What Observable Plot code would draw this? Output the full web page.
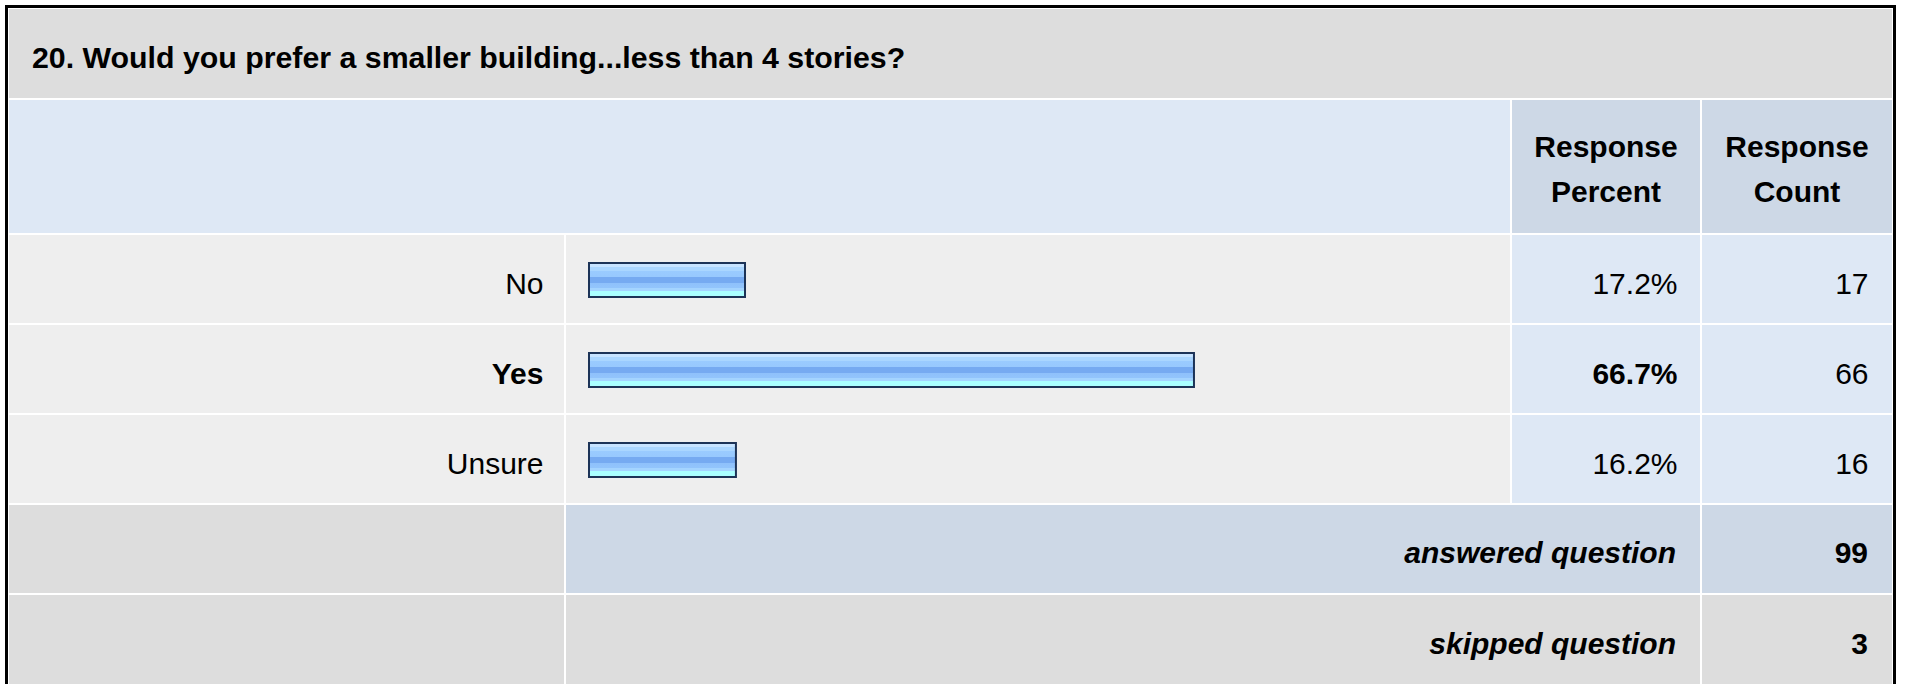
<!DOCTYPE html>
<html>
<head>
<meta charset="utf-8">
<script src="https://cdn.jsdelivr.net/npm/d3@7"></script>
<script src="https://cdn.jsdelivr.net/npm/@observablehq/plot@0.6"></script>
<style>
  html, body { margin: 0; padding: 0; background: #fff; overflow: hidden; }
  body { width: 1907px; height: 684px; position: relative;
         font-family: "Liberation Sans", Arial, Helvetica, sans-serif; color: #000; }
  #frame { position: absolute; left: 5px; top: 5px; width: 1883px; height: 700px;
           border: 3px solid #000; border-bottom: none; padding: 1px; background: #fff; }
  #grid { display: grid; grid-template-columns: 555px 944px 188px 190px;
          grid-template-rows: 89px 133px 88px 88px 88px 88px 89px; gap: 2px; }
  .c { display: flex; align-items: center; box-sizing: border-box; font-size: 30px; }
  .c span { position: relative; top: 4px; white-space: nowrap; }
  .title { grid-column: 1 / 5; background: #dddddd; font-weight: bold; padding-left: 23px; font-size: 30.3px; }
  .hblank { grid-column: 1 / 3; background: #dee8f5; }
  .hresp { background: #cdd8e6; font-weight: bold; justify-content: center; text-align: center; line-height: 45px; }
  .hresp span { top: 2px; }
  .lab { background: #eeeeee; }
  .num { background: #dee8f5; }
  .sumlab { background: #dddddd; }
  .sumtxt { grid-column: 2 / 4; justify-content: flex-end; padding-right: 24px; font-weight: bold; font-style: italic; }
  .sumcnt { justify-content: flex-end; padding-right: 24px; font-weight: bold; }
  .ans { background: #cdd8e6; }
  .skp { background: #dddddd; }
  #chart { position: absolute; left: 1px; top: 225px; width: 1883px; height: 272px; }
  #chart svg { display: block; }
</style>
</head>
<body>
<svg width="0" height="0" style="position:absolute">
  <defs>
    <linearGradient id="barGrad" x1="0" y1="0" x2="0" y2="1">
      <stop offset="0" stop-color="#c8e4ff"/>
      <stop offset="0.12" stop-color="#c6e3ff"/>
      <stop offset="0.13" stop-color="#aad6ff"/>
      <stop offset="0.235" stop-color="#aad6ff"/>
      <stop offset="0.245" stop-color="#9acbff"/>
      <stop offset="0.40" stop-color="#98c9fe"/>
      <stop offset="0.42" stop-color="#76aaf1"/>
      <stop offset="0.58" stop-color="#76aaf1"/>
      <stop offset="0.60" stop-color="#8fc1fb"/>
      <stop offset="0.73" stop-color="#92c4fc"/>
      <stop offset="0.745" stop-color="#a4d4ff"/>
      <stop offset="0.815" stop-color="#a4d4ff"/>
      <stop offset="0.83" stop-color="#aaffff"/>
      <stop offset="1" stop-color="#aaffff"/>
    </linearGradient>
  </defs>
</svg>
<div id="frame">
  <div id="grid"></div>
  <div id="chart"></div>
</div>
<script>
// ---- data ----
const questionTitle = "20. Would you prefer a smaller building...less than 4 stories?";
const columnHeaders = [["Response", "Percent"], ["Response", "Count"]];
const answers = ["No", "Yes", "Unsure"];
const percents = [17.2, 66.7, 16.2];
const counts = [17, 66, 16];
const summaryLabels = ["answered question", "skipped question"];
const summaryCounts = [99, 3];

// ---- table frame (HTML) ----
const grid = document.getElementById("grid");
function cell(cls, html) {
  const d = document.createElement("div");
  d.className = "c " + cls;
  if (html !== undefined) { const s = document.createElement("span"); s.innerHTML = html; d.appendChild(s); }
  grid.appendChild(d);
  return d;
}
cell("title", questionTitle);
cell("hblank");
columnHeaders.forEach(h => cell("hresp", h.join("<br>")));
answers.forEach(() => { cell("lab"); cell("lab"); cell("num"); cell("num"); });
summaryLabels.forEach((lab, i) => {
  const cls = i === 0 ? "ans" : "skp";
  cell("sumlab");
  cell("sumtxt " + cls, lab);
  cell("sumcnt " + cls, String(summaryCounts[i]));
});

// ---- bars and row texts (Plot) ----
const rows = answers.map((a, i) => ({answer: a, pct: percents[i], count: counts[i]}));
const maxPct = d3.max(percents);
const isTop = d => d.pct === maxPct;
const notTop = d => d.pct !== maxPct;
const fmtPct = d => `${d.pct.toFixed(1)}%`;
const txt = {y: "answer", lineAnchor: "middle", dy: 5, fill: "#000", fontSize: 30};

const plot = Plot.plot({
  width: 1883,
  height: 272,
  margin: 0,
  style: {background: "transparent", fontFamily: "'Liberation Sans', Arial, sans-serif", color: "#000"},
  x: {domain: [0, 100], range: [580, 1487], axis: null},
  y: {domain: answers, range: [1, 271], padding: 0, axis: null},
  marks: [
    Plot.barX(rows, {x: "pct", y: "answer", fill: "url(#barGrad)", stroke: "#1c3357", strokeWidth: 2,
                     insetTop: 29, insetBottom: 27}),
    Plot.text(rows, {...txt, filter: notTop, text: "answer", frameAnchor: "left", dx: 534, textAnchor: "end"}),
    Plot.text(rows, {...txt, filter: isTop, text: "answer", frameAnchor: "left", dx: 534, textAnchor: "end", fontWeight: "bold"}),
    Plot.text(rows, {...txt, filter: notTop, text: fmtPct, frameAnchor: "left", dx: 1668, textAnchor: "end"}),
    Plot.text(rows, {...txt, filter: isTop, text: fmtPct, frameAnchor: "left", dx: 1668, textAnchor: "end", fontWeight: "bold"}),
    Plot.text(rows, {...txt, text: d => String(d.count), frameAnchor: "left", dx: 1859, textAnchor: "end"})
  ]
});
document.getElementById("chart").appendChild(plot);
</script>
</body>
</html>
